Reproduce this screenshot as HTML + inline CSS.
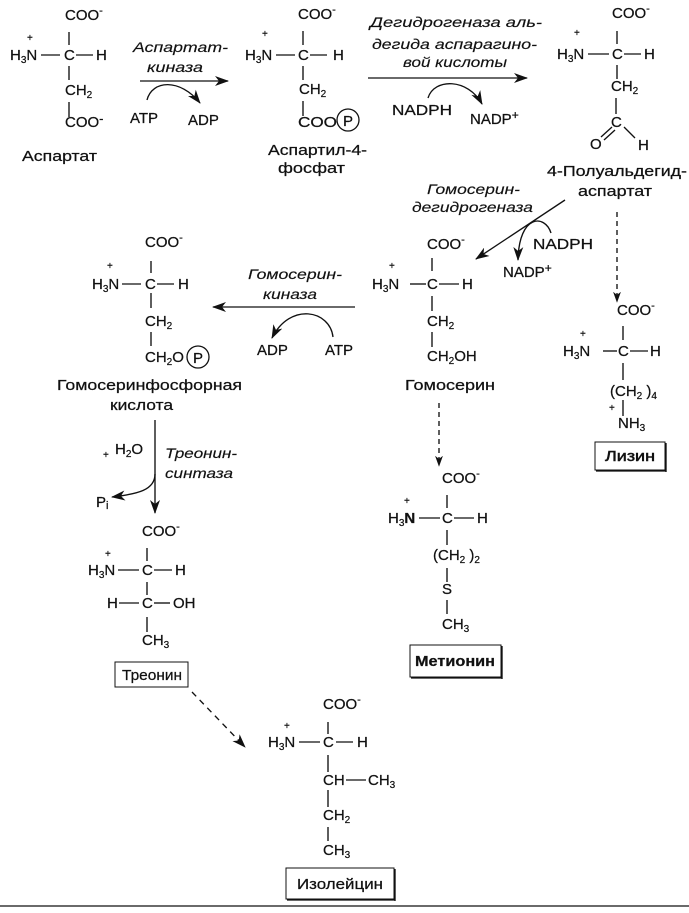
<!DOCTYPE html>
<html><head><meta charset="utf-8"><style>
html,body{margin:0;padding:0;background:#fff;}
svg{display:block;}
text{font-family:"Liberation Sans",Arial,sans-serif;fill:#111;stroke:#111;stroke-width:0.25;}
.f{font-size:15px;}
.i{font-size:14px;font-style:italic;stroke-width:0.15;}
.s{font-size:10px;}
.p{font-size:10px;}
line,path.b{stroke:#111;stroke-width:1.35;fill:none;}
</style></head><body>
<svg width="689" height="913" viewBox="0 0 689 913" xmlns="http://www.w3.org/2000/svg">
<defs>
<marker id="a" viewBox="0 0 14 10" refX="13" refY="5" markerWidth="14" markerHeight="10" markerUnits="userSpaceOnUse" orient="auto"><path d="M0,0 L14,5 L0,10 L4,5z" fill="#111"/></marker>
<marker id="d" viewBox="0 0 14 10" refX="13" refY="5" markerWidth="11" markerHeight="9" markerUnits="userSpaceOnUse" orient="auto"><path d="M0,0 L14,5 L0,10 L4,5z" fill="#111"/></marker>
</defs>
<rect width="689" height="913" fill="#fff"/>

<!-- Aspartate -->
<text class="f" x="65" y="20">COO<tspan font-size="11" dy="-6">-</tspan></text>
<line x1="69" y1="32" x2="69" y2="45"/>
<text class="p" x="27" y="41">+</text>
<text class="f" x="10" y="60">H<tspan font-size="10" dy="3">3</tspan><tspan dy="-3">N</tspan></text>
<line x1="41" y1="55" x2="60" y2="55"/>
<text class="f" x="64" y="60">C</text>
<line x1="76" y1="55" x2="93" y2="55"/>
<text class="f" x="96" y="60">H</text>
<line x1="69" y1="66" x2="69" y2="80"/>
<text class="f" x="65" y="95">CH<tspan font-size="10" dy="3">2</tspan></text>
<line x1="69" y1="102" x2="69" y2="117"/>
<text class="f" x="65" y="127">COO<tspan dy="-4" font-size="13">-</tspan></text>
<text class="f" x="22" y="161" textLength="75" lengthAdjust="spacingAndGlyphs" font-size="16">Аспартат</text>

<!-- Arrow 1 -->
<text class="i" x="133" y="52" textLength="95" lengthAdjust="spacingAndGlyphs">Аспартат-</text>
<text class="i" x="147" y="72" textLength="56" lengthAdjust="spacingAndGlyphs">киназа</text>
<line x1="140" y1="81" x2="228" y2="81" marker-end="url(#a)" stroke-width="1.4"/>
<path class="b" d="M147,100 C152,80 180,78 200,103" marker-end="url(#a)"/>
<text class="f" x="130" y="123">ATP</text>
<text class="f" x="188" y="125">ADP</text>

<!-- Aspartyl-4-phosphate -->
<text class="f" x="298" y="19">COO<tspan font-size="11" dy="-6">-</tspan></text>
<line x1="303" y1="31" x2="303" y2="45"/>
<text class="p" x="262" y="37">+</text>
<text class="f" x="245" y="60">H<tspan font-size="10" dy="3">3</tspan><tspan dy="-3">N</tspan></text>
<line x1="276" y1="55" x2="295" y2="55"/>
<text class="f" x="298" y="60">C</text>
<line x1="310" y1="55" x2="327" y2="55"/>
<text class="f" x="333" y="60">H</text>
<line x1="303" y1="66" x2="303" y2="80"/>
<text class="f" x="299" y="94">CH<tspan font-size="10" dy="3">2</tspan></text>
<line x1="303" y1="101" x2="303" y2="116"/>
<text class="f" x="298" y="127" textLength="39" lengthAdjust="spacingAndGlyphs">COO</text>
<circle cx="348" cy="120" r="11" fill="none" stroke="#111" stroke-width="1.3"/>
<text class="f" x="343" y="126">P</text>
<text class="f" x="268" y="155" textLength="99" lengthAdjust="spacingAndGlyphs" font-size="16">Аспартил-4-</text>
<text class="f" x="278" y="173" textLength="67" lengthAdjust="spacingAndGlyphs" font-size="16">фосфат</text>

<!-- Arrow 2 -->
<text class="i" x="370" y="27" textLength="172" lengthAdjust="spacingAndGlyphs">Дегидрогеназа аль-</text>
<text class="i" x="372" y="49" textLength="165" lengthAdjust="spacingAndGlyphs">дегида аспарагино-</text>
<text class="i" x="403" y="67" textLength="104" lengthAdjust="spacingAndGlyphs">вой кислоты</text>
<line x1="368" y1="78" x2="527" y2="78" marker-end="url(#a)" stroke-width="1.4"/>
<path class="b" d="M428,98 C434,78 468,78 482,104" marker-end="url(#a)"/>
<text class="f" x="392" y="115" textLength="60" lengthAdjust="spacingAndGlyphs">NADPH</text>
<text class="f" x="470" y="124">NADP<tspan font-size="12" dy="-5">+</tspan></text>

<!-- 4-Polyaldehyde aspartate -->
<text class="f" x="612" y="18">COO<tspan font-size="11" dy="-6">-</tspan></text>
<line x1="617" y1="31" x2="617" y2="44"/>
<text class="p" x="574" y="36">+</text>
<text class="f" x="557" y="59">H<tspan font-size="10" dy="3">3</tspan><tspan dy="-3">N</tspan></text>
<line x1="588" y1="54" x2="609" y2="54"/>
<text class="f" x="612" y="59">C</text>
<line x1="624" y1="54" x2="641" y2="54"/>
<text class="f" x="644" y="59">H</text>
<line x1="617" y1="65" x2="617" y2="79"/>
<text class="f" x="611" y="91">CH<tspan font-size="10" dy="3">2</tspan></text>
<line x1="616" y1="98" x2="616" y2="114"/>
<text class="f" x="611" y="127">C</text>
<line x1="612" y1="127" x2="601" y2="137"/>
<line x1="615" y1="130" x2="604" y2="140"/>
<text class="f" x="590" y="149">O</text>
<line x1="624" y1="127" x2="635" y2="138"/>
<text class="f" x="638" y="150">H</text>
<text class="f" x="547" y="176" textLength="140" lengthAdjust="spacingAndGlyphs" font-size="16">4-Полуальдегид-</text>
<text class="f" x="578" y="196" textLength="74" lengthAdjust="spacingAndGlyphs" font-size="16">аспартат</text>

<!-- Homoserine dehydrogenase arrow -->
<text class="i" x="427" y="194" textLength="93" lengthAdjust="spacingAndGlyphs">Гомосерин-</text>
<text class="i" x="412" y="212" textLength="121" lengthAdjust="spacingAndGlyphs">дегидрогеназа</text>
<line x1="565" y1="200" x2="476" y2="259" marker-end="url(#a)" stroke-width="1.4"/>
<path class="b" d="M551,233 C545,214 519,214 518,260" marker-end="url(#a)"/>
<text class="f" x="533" y="249" textLength="60" lengthAdjust="spacingAndGlyphs">NADPH</text>
<text class="f" x="503" y="277">NADP<tspan font-size="12" dy="-5">+</tspan></text>

<!-- Homoserine -->
<text class="f" x="427" y="249">COO<tspan font-size="11" dy="-6">-</tspan></text>
<line x1="432" y1="258" x2="432" y2="271"/>
<text class="p" x="389" y="269">+</text>
<text class="f" x="372" y="289">H<tspan font-size="10" dy="3">3</tspan><tspan dy="-3">N</tspan></text>
<line x1="410" y1="284" x2="426" y2="284"/>
<text class="f" x="427" y="289">C</text>
<line x1="439" y1="284" x2="459" y2="284"/>
<text class="f" x="462" y="289">H</text>
<line x1="432" y1="296" x2="432" y2="311"/>
<text class="f" x="427" y="326">CH<tspan font-size="10" dy="3">2</tspan></text>
<line x1="432" y1="332" x2="432" y2="347"/>
<text class="f" x="427" y="361">CH<tspan font-size="10" dy="3">2</tspan><tspan dy="-3">OH</tspan></text>
<text class="f" x="405" y="390" textLength="90" lengthAdjust="spacingAndGlyphs" font-size="16">Гомосерин</text>
<line x1="439" y1="403" x2="439" y2="466" stroke-dasharray="5,4" marker-end="url(#d)"/>

<!-- Lysine -->
<line x1="617" y1="212" x2="617" y2="302" stroke-dasharray="5,4" marker-end="url(#d)"/>
<text class="f" x="617" y="315">COO<tspan font-size="11" dy="-6">-</tspan></text>
<line x1="623" y1="326" x2="623" y2="340"/>
<text class="p" x="580" y="337">+</text>
<text class="f" x="563" y="356">H<tspan font-size="10" dy="3">3</tspan><tspan dy="-3">N</tspan></text>
<line x1="603" y1="351" x2="617" y2="351"/>
<text class="f" x="618" y="356">C</text>
<line x1="630" y1="351" x2="648" y2="351"/>
<text class="f" x="650" y="356">H</text>
<line x1="623" y1="363" x2="623" y2="380"/>
<text class="f" x="610" y="396">(CH<tspan font-size="10" dy="3">2</tspan><tspan dy="-3"> )</tspan><tspan font-size="10" dy="3">4</tspan></text>
<text class="p" x="609" y="411">+</text>
<line x1="623" y1="400" x2="623" y2="416"/>
<text class="f" x="618" y="428">NH<tspan font-size="10" dy="3">3</tspan></text>
<rect x="595" y="442" width="70" height="28" fill="none" stroke="#111" stroke-width="1"/>
<line x1="596" y1="471" x2="666" y2="471" stroke-width="2"/>
<line x1="666" y1="443" x2="666" y2="472" stroke-width="2"/>
<text class="f" x="630" y="461" text-anchor="middle" textLength="50" lengthAdjust="spacingAndGlyphs" style="stroke-width:0.5">Лизин</text>

<!-- Homoserine kinase arrow -->
<text class="i" x="248" y="279" textLength="94" lengthAdjust="spacingAndGlyphs">Гомосерин-</text>
<text class="i" x="263" y="299" textLength="54" lengthAdjust="spacingAndGlyphs">киназа</text>
<line x1="355" y1="307" x2="213" y2="307" marker-end="url(#a)" stroke-width="1.4"/>
<path class="b" d="M333,337 C330,310 290,302 272,338" marker-end="url(#a)"/>
<text class="f" x="257" y="355">ADP</text>
<text class="f" x="325" y="355">ATP</text>

<!-- Homoserine phosphate -->
<text class="f" x="145" y="247">COO<tspan font-size="11" dy="-6">-</tspan></text>
<line x1="151" y1="261" x2="151" y2="273"/>
<text class="p" x="107" y="269">+</text>
<text class="f" x="92" y="289">H<tspan font-size="10" dy="3">3</tspan><tspan dy="-3">N</tspan></text>
<line x1="122" y1="284" x2="141" y2="284"/>
<text class="f" x="145" y="289">C</text>
<line x1="157" y1="284" x2="174" y2="284"/>
<text class="f" x="178" y="289">H</text>
<line x1="151" y1="293" x2="151" y2="308"/>
<text class="f" x="145" y="326">CH<tspan font-size="10" dy="3">2</tspan></text>
<line x1="151" y1="332" x2="151" y2="346"/>
<text class="f" x="145" y="362">CH<tspan font-size="10" dy="3">2</tspan><tspan dy="-3">O</tspan></text>
<circle cx="198" cy="357" r="11" fill="none" stroke="#111" stroke-width="1.3"/>
<text class="f" x="193" y="363">P</text>
<text class="f" x="57" y="390" textLength="185" lengthAdjust="spacingAndGlyphs" font-size="16">Гомосеринфосфорная</text>
<text class="f" x="110" y="410" textLength="63" lengthAdjust="spacingAndGlyphs" font-size="16">кислота</text>

<!-- Threonine synthase -->
<line x1="155" y1="420" x2="155" y2="513" marker-end="url(#a)" stroke-width="1.4"/>
<text class="p" x="103" y="458">+</text>
<text class="f" x="115" y="454">H<tspan font-size="10" dy="3">2</tspan><tspan dy="-3">O</tspan></text>
<text class="i" x="165" y="458" textLength="72" lengthAdjust="spacingAndGlyphs">Треонин-</text>
<text class="i" x="165" y="478" textLength="68" lengthAdjust="spacingAndGlyphs">синтаза</text>
<path class="b" d="M155,474 C155,490 138,494 112,497" marker-end="url(#a)"/>
<text class="f" x="96" y="507">P<tspan font-size="11" dy="2">i</tspan></text>

<!-- Threonine -->
<text class="f" x="142" y="536">COO<tspan font-size="11" dy="-6">-</tspan></text>
<line x1="147" y1="548" x2="147" y2="561"/>
<text class="p" x="105" y="557">+</text>
<text class="f" x="88" y="575">H<tspan font-size="10" dy="3">3</tspan><tspan dy="-3">N</tspan></text>
<line x1="118" y1="570" x2="139" y2="570"/>
<text class="f" x="142" y="575">C</text>
<line x1="154" y1="570" x2="172" y2="570"/>
<text class="f" x="175" y="575">H</text>
<line x1="147" y1="582" x2="147" y2="595"/>
<text class="f" x="107" y="608">H</text>
<line x1="119" y1="603" x2="139" y2="603"/>
<text class="f" x="142" y="608">C</text>
<line x1="154" y1="603" x2="170" y2="603"/>
<text class="f" x="173" y="608">OH</text>
<line x1="147" y1="617" x2="147" y2="632"/>
<text class="f" x="142" y="645">CH<tspan font-size="10" dy="3">3</tspan></text>
<rect x="115" y="662" width="73" height="25" fill="none" stroke="#111" stroke-width="1"/>
<text class="f" x="152" y="680" text-anchor="middle" textLength="60" lengthAdjust="spacingAndGlyphs">Треонин</text>

<line x1="192" y1="692" x2="245" y2="747" stroke-dasharray="6,5" marker-end="url(#a)"/>

<!-- Methionine -->
<text class="f" x="442" y="483">COO<tspan font-size="11" dy="-6">-</tspan></text>
<line x1="447" y1="495" x2="447" y2="508"/>
<text class="p" x="404" y="504">+</text>
<text class="f" x="388" y="523">H<tspan font-size="10" dy="3">3</tspan><tspan dy="-3" font-weight="bold">N</tspan></text>
<line x1="419" y1="518" x2="440" y2="518"/>
<text class="f" x="442" y="523">C</text>
<line x1="454" y1="518" x2="474" y2="518"/>
<text class="f" x="477" y="523">H</text>
<line x1="447" y1="530" x2="447" y2="545"/>
<text class="f" x="433" y="560">(CH<tspan font-size="10" dy="3">2</tspan><tspan dy="-3"> )</tspan><tspan font-size="10" dy="3">2</tspan></text>
<line x1="447" y1="568" x2="447" y2="582"/>
<text class="f" x="442" y="594">S</text>
<line x1="447" y1="600" x2="447" y2="614"/>
<text class="f" x="442" y="629">CH<tspan font-size="10" dy="3">3</tspan></text>
<rect x="410" y="645" width="91" height="32" fill="none" stroke="#111" stroke-width="1"/>
<line x1="411" y1="678" x2="502" y2="678" stroke-width="2"/>
<line x1="502" y1="646" x2="502" y2="679" stroke-width="2"/>
<text class="f" x="455" y="666" text-anchor="middle" font-weight="bold" textLength="80" lengthAdjust="spacingAndGlyphs">Метионин</text>

<!-- Isoleucine -->
<text class="f" x="323" y="709">COO<tspan font-size="11" dy="-6">-</tspan></text>
<line x1="328" y1="722" x2="328" y2="734"/>
<text class="p" x="284" y="729">+</text>
<text class="f" x="268" y="747">H<tspan font-size="10" dy="3">3</tspan><tspan dy="-3">N</tspan></text>
<line x1="299" y1="742" x2="320" y2="742"/>
<text class="f" x="323" y="747">C</text>
<line x1="336" y1="742" x2="353" y2="742"/>
<text class="f" x="357" y="747">H</text>
<line x1="328" y1="755" x2="328" y2="772"/>
<text class="f" x="323" y="785">CH</text>
<line x1="346" y1="780" x2="366" y2="780"/>
<text class="f" x="368" y="785">CH<tspan font-size="10" dy="3">3</tspan></text>
<line x1="328" y1="790" x2="328" y2="807"/>
<text class="f" x="323" y="820">CH<tspan font-size="10" dy="3">2</tspan></text>
<line x1="328" y1="827" x2="328" y2="841"/>
<text class="f" x="323" y="855">CH<tspan font-size="10" dy="3">3</tspan></text>
<rect x="286" y="868" width="108" height="31" fill="none" stroke="#111" stroke-width="1"/>
<line x1="287" y1="900" x2="395" y2="900" stroke-width="2"/>
<line x1="395" y1="869" x2="395" y2="901" stroke-width="2"/>
<text class="f" x="340" y="889" text-anchor="middle" textLength="86" lengthAdjust="spacingAndGlyphs" font-size="16">Изолейцин</text>

<line x1="0" y1="906" x2="689" y2="906" stroke="#bbb" stroke-width="2"/>
</svg>
</body></html>
